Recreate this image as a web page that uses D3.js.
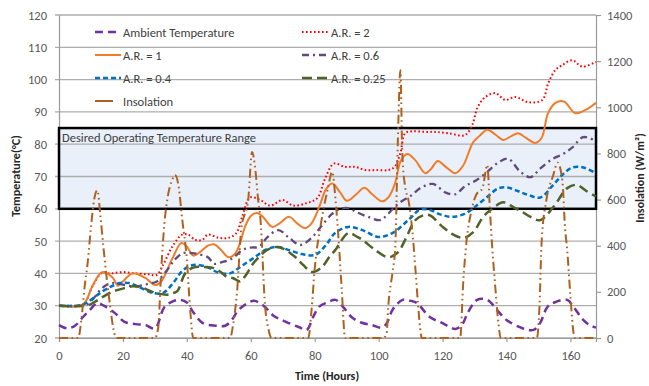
<!DOCTYPE html>
<meta charset="utf-8">
<script src="https://d3js.org/d3.v7.min.js"></script>
<style>
  body { margin: 0; background: #fff; }
  text { font-family: Calibri, Carlito, "Liberation Sans", Arial, sans-serif; }
</style>
<div id="my_dataviz"></div>
<script>
  // temperature series, [hour, degC]
  var ambient = [[0,24],[2.5,23],[5,23.8],[7.5,26.5],[9.5,28.5],[12,30.8],[14,30],[17.5,27.7],[20.5,25],[24,24.3],[27,24],[30,23],[33,29.6],[36,31.5],[38,31.8],[40,31],[42,28],[45,24.6],[49,23.8],[52,23.8],[54,25.5],[56,28.5],[58.5,30.5],[61,31.5],[64,30],[67,27],[71,25],[75,23.4],[77.5,22.5],[79.5,26.5],[81.5,29.8],[84,31],[86.5,31.8],[89,29.5],[91.5,26.5],[94.5,24.8],[98,24],[101,23.2],[102.5,24.5],[104.5,29],[107.5,31.8],[110,31.5],[112,30.8],[116,26.5],[120,24.6],[124,22.8],[126,24],[128,28],[130.8,31.8],[134,31.8],[137,28.7],[140,25.6],[145,23],[148.5,22.5],[150.5,24.6],[152.8,29.6],[155,31],[159,31.8],[161,29.6],[164,25.6],[166,24],[168,23.2]];
  var ar2 = [[0,30],[7,30],[8.5,31.5],[10.5,36],[13.5,40.2],[16,40],[20,40.4],[24,40],[28,39.7],[30.5,39.5],[32.5,42.5],[35.4,48.2],[38.5,52],[40.4,52],[42.6,50.4],[44.8,50.4],[46.6,52],[50,51],[53,51],[55.5,52.5],[57.3,57.5],[59.8,63.5],[63,62.7],[66,61],[70,62.7],[73.3,61],[77.6,61.8],[80.8,63.3],[83.3,69.5],[86,74],[89.5,73],[92.7,73],[95.8,72],[99,72],[103,72],[105,73],[106.8,77.3],[108.3,83.4],[110.5,84],[114.6,83.8],[117.7,83.8],[121.8,83.4],[127,82.8],[129.3,86],[131,91.5],[133.4,94.6],[136.5,95.8],[139.6,93.7],[142.8,94.6],[146.8,93],[151.2,93.7],[153.1,99],[155.3,103],[157.5,104.5],[160.6,106],[163.7,104],[168,105.5]];
  var ar1 = [[0,30],[7,30],[8.5,31.5],[10.3,35.8],[13.5,40.4],[16.6,38.9],[18.5,36.2],[20,37.5],[22.9,40],[27,38.6],[30,36.4],[32,37.5],[35.4,44.5],[38.3,49.4],[40,48.3],[42,45.5],[44,46.5],[46.6,48.6],[48.5,49],[50.5,47.5],[53,45],[55,46],[56.5,49],[58.2,54.4],[60,57.8],[62,58.7],[63.8,57.5],[66.7,54.4],[69,55.5],[72,57.5],[74.5,55.5],[77,54],[79,55.5],[81.5,60.8],[83.5,66],[85.5,67.8],[88,65],[90,62.5],[93,64.5],[95.5,66.5],[98,64.5],[101,62.3],[103,63.5],[105,67.5],[107,75],[109,77],[111.5,75],[114.6,71],[116.5,72.5],[118.5,74.8],[121,73],[124,71],[126.5,73.5],[129.5,80.5],[131.5,82.5],[134,84.5],[136.5,83],[139,81.3],[141.5,82.5],[143.7,83.4],[146,82],[149,80.4],[151,82],[153,89.6],[155.3,92.8],[158,93.2],[161.5,89.6],[164.7,90.6],[168,92.8]];
  var ar06 = [[0,30],[7,30],[9,30.5],[11,32.5],[13,35],[15,36.5],[17,37],[20,36.5],[24,36],[28,36.8],[30.6,37.5],[33.8,41],[36,44],[38.8,46.3],[41.6,46.3],[43.5,46],[46.6,45],[48.5,43],[51,43.5],[54,44.5],[57.5,47.3],[60,48],[62.5,48.2],[65,51],[68.6,53.4],[72,51],[75.5,48.8],[79,51],[82,54.5],[85.5,58.5],[88,60],[90.5,60.2],[93,59],[96.7,57.5],[100.5,56.5],[103,58.5],[106,61.5],[110,64],[113.5,66.7],[117,67.7],[121,65],[124,64.5],[127,67],[130,68.5],[133.5,71],[137,74],[140.5,75.5],[144.3,71.5],[147.5,69.8],[150.6,72.5],[154.5,75.5],[157.8,77],[160.6,79],[164,82.2],[168,81]];
  var ar04 = [[0,30],[6,30],[8.5,30.8],[10.5,32.2],[12.8,33.9],[16,35.8],[19,37],[22,37],[25,35.8],[29.5,33.9],[32.6,34],[35.7,37],[38.8,41],[42,42.6],[46.3,42],[49.5,40.4],[53.5,40],[56.7,42],[60.5,44.5],[65,47.5],[68.5,48.2],[72,47.2],[76,46],[80,45.7],[83.3,48.5],[86.4,52.5],[90.5,54.4],[94.9,53.4],[99.9,51.3],[104.3,52.5],[109.3,56.5],[113,59.8],[116,59.6],[119.5,58.2],[123,57.5],[127,58.5],[130,60.5],[134,63.7],[137.4,66.3],[140.3,66.6],[143.5,65.5],[146.8,64.3],[150.6,63.5],[154.7,67.5],[157.5,70.5],[160.6,72.8],[164,72.8],[168,71]];
  var ar025 = [[0,30],[8,30],[10,30.5],[12.2,31.8],[14.5,33.2],[16.6,34.3],[20.7,35.5],[23,36],[25.4,35.8],[28,34.8],[30,34],[33.8,33.4],[35.4,33.8],[37,34.5],[39.5,40],[42,41.8],[44.8,42],[48.2,41.7],[50.5,40.5],[52.5,38.9],[54.5,38.5],[56.7,37.5],[58.5,39.5],[60.7,43],[63,45.5],[65,47.2],[68.2,48.2],[70.5,47.5],[72.3,46.3],[74,45],[76.4,42.6],[79.3,40.4],[82.3,42],[84.5,45],[86.4,47.2],[90.5,52.5],[93,51.5],[94.9,50.4],[99,47.2],[103,45],[106,46.5],[108.3,50.4],[111.5,56.5],[114,58],[116,58],[120,54.4],[123.4,52],[126.5,51],[129.6,52.8],[132.7,57.5],[135,59.6],[139,62],[142,60.6],[145,59],[147.5,57.5],[150.6,56.5],[154.7,60.6],[159,66.4],[162,67.4],[165,65.5],[168,63.8]];
  // solar insolation, [hour, W/m2] (right axis)
  var insolation = [[0,0],[6,0],[7,80],[8,220],[9,330],[10,480],[11,600],[12,640],[13,520],[14,380],[15,250],[16,140],[17,40],[18,0],[30,0],[31,40],[32,300],[33,500],[34,610],[35.4,685],[36.3,706],[37.5,650],[38.5,520],[40,340],[41,130],[42,0],[53.5,0],[54.5,60],[55.7,200],[57,470],[59.2,600],[60.4,806],[61.5,720],[62.3,600],[63,520],[64.5,134],[65.5,40],[66.5,0],[78,0],[79,120],[80,300],[82,500],[84,640],[85.5,720],[86.5,600],[87.5,420],[88.5,200],[89.5,0],[101.5,0],[102.5,20],[103,134],[104.3,282],[105.2,394],[106,850],[106.8,1160],[107.4,800],[108.3,654],[109.3,600],[110.5,470],[111.5,300],[112.3,150],[113,40],[113.5,0],[125.5,0],[126.5,250],[127.5,420],[129,550],[130.5,620],[132.5,650],[134,750],[134.8,560],[135.5,400],[136.5,220],[137.5,60],[138.2,0],[149.5,0],[150.3,130],[151,420],[152.5,600],[154.5,700],[156,760],[157.5,680],[158.3,480],[159,380],[160,180],[161,20],[161.5,0],[168,0]];

  var seriesNames = ["Ambient Temperature", "A.R. = 2", "A.R. = 1", "A.R. = 0.6", "A.R. = 0.4", "A.R. = 0.25", "Insolation"];
  var xTicks = [0, 20, 40, 60, 80, 100, 120, 140, 160];
  var yTicks = [20, 30, 40, 50, 60, 70, 80, 90, 100, 110, 120];
  var yRightTicks = [0, 200, 400, 600, 800, 1000, 1200, 1400];
  var desiredRange = [60, 85];

  // styles per series (same order as names)
  var styles = [
    {color: "#7030a0", dash: "8,5", width: 2.5},
    {color: "#ff0000", dash: "1.6,2.4", width: 2},
    {color: "#f07c2a", dash: null, width: 2},
    {color: "#604a7b", dash: "7,4,2,4", width: 2.3},
    {color: "#0070c0", dash: "5,3", width: 2.5},
    {color: "#4f6228", dash: "10,5", width: 2.5},
    {color: "#b0601e", dash: "9,3.5,1.6,3.5,1.6,3.5", width: 2}
  ];
  var seriesData = [ambient, ar2, ar1, ar06, ar04, ar025, insolation];

  var W = 649, H = 386;
  var svg = d3.select("#my_dataviz").append("svg").attr("width", W).attr("height", H);

  var x = d3.scaleLinear().domain([0, 168]).range([59, 596]);
  var y = d3.scaleLinear().domain([20, 120]).range([338, 15]);
  var yR = d3.scaleLinear().domain([0, 1400]).range([338, 15]);

  // desired range band (fill first so grid shows through)
  svg.append("rect")
    .attr("x", x(0)).attr("y", y(desiredRange[1]))
    .attr("width", x(168) - x(0)).attr("height", y(desiredRange[0]) - y(desiredRange[1]))
    .attr("fill", "#e9f0fa");

  // gridlines
  svg.append("g").selectAll("line").data(yTicks).join("line")
    .attr("x1", 55).attr("x2", x(168))
    .attr("y1", function(d) { return y(d); }).attr("y2", function(d) { return y(d); })
    .attr("stroke", "#adadad").attr("stroke-width", 1.3);

  // axes
  var gx = svg.append("g").attr("transform", "translate(0," + y(20) + ")")
    .call(d3.axisBottom(x).tickValues(xTicks).tickSize(4).tickPadding(9));
  var gy = svg.append("g").attr("transform", "translate(" + x(0) + ",0)")
    .call(d3.axisLeft(y).tickValues(yTicks).tickSize(0).tickPadding(12));
  var gyr = svg.append("g").attr("transform", "translate(" + x(168) + ",0)")
    .call(d3.axisRight(yR).tickValues(yRightTicks).tickFormat(d3.format("d")).tickSize(5).tickPadding(6));
  [gx, gy, gyr].forEach(function(g) {
    g.select(".domain").attr("stroke", "#9a9a9a").attr("stroke-width", 1.2);
    g.selectAll(".tick line").attr("stroke", "#9a9a9a").attr("stroke-width", 1.2);
    g.selectAll(".tick text").attr("fill", "#595959").style("font-size", "12.5px");
  });

  // box outline + label
  svg.append("rect")
    .attr("x", x(0)).attr("y", y(desiredRange[1]))
    .attr("width", x(168) - x(0)).attr("height", y(desiredRange[0]) - y(desiredRange[1]))
    .attr("fill", "none").attr("stroke", "#000").attr("stroke-width", 2.5);
  svg.append("text").attr("x", x(0) + 3).attr("y", y(desiredRange[1]) + 14)
    .attr("fill", "#404040").style("font-size", "12.5px")
    .text("Desired Operating Temperature Range");

  // lines
  var tLine = d3.line().x(function(d) { return x(d[0]); }).y(function(d) { return y(d[1]); })
    .curve(d3.curveCatmullRom.alpha(0.5));
  var iLine = d3.line().x(function(d) { return x(d[0]); }).y(function(d) { return yR(d[1]); })
    .curve(d3.curveMonotoneX);

  seriesData.forEach(function(data, i) {
    svg.append("path").datum(data)
      .attr("d", i === 6 ? iLine : tLine)
      .attr("fill", "none")
      .attr("stroke", styles[i].color)
      .attr("stroke-width", styles[i].width)
      .attr("stroke-dasharray", styles[i].dash);
  });

  // legend, two columns
  var legX = [95, 302], legTextX = [123, 331], legY = [32, 55, 78, 101];
  seriesNames.forEach(function(name, i) {
    var c = i % 2, r = Math.floor(i / 2);
    svg.append("line")
      .attr("x1", legX[c]).attr("x2", legX[c] + (i === 6 ? 18 : 26))
      .attr("y1", legY[r]).attr("y2", legY[r])
      .attr("stroke", styles[i].color).attr("stroke-width", styles[i].width)
      .attr("stroke-dasharray", i === 6 ? null : styles[i].dash);
    svg.append("text").attr("x", legTextX[c]).attr("y", legY[r] + 4.5)
      .attr("fill", "#404040").style("font-size", "12.5px").text(name);
  });

  // axis titles
  svg.append("text").attr("x", 327).attr("y", 380).attr("text-anchor", "middle")
    .style("font-size", "12px").style("font-weight", "bold").attr("fill", "#262626")
    .text("Time (Hours)");
  svg.append("text").attr("transform", "translate(20,176) rotate(-90)").attr("text-anchor", "middle")
    .style("font-size", "12px").style("font-weight", "bold").attr("fill", "#262626")
    .text("Temperature(°C)");
  svg.append("text").attr("transform", "translate(644,178) rotate(-90)").attr("text-anchor", "middle")
    .style("font-size", "12px").style("font-weight", "bold").attr("fill", "#262626")
    .text("Insolation (W/m²)");
</script>
